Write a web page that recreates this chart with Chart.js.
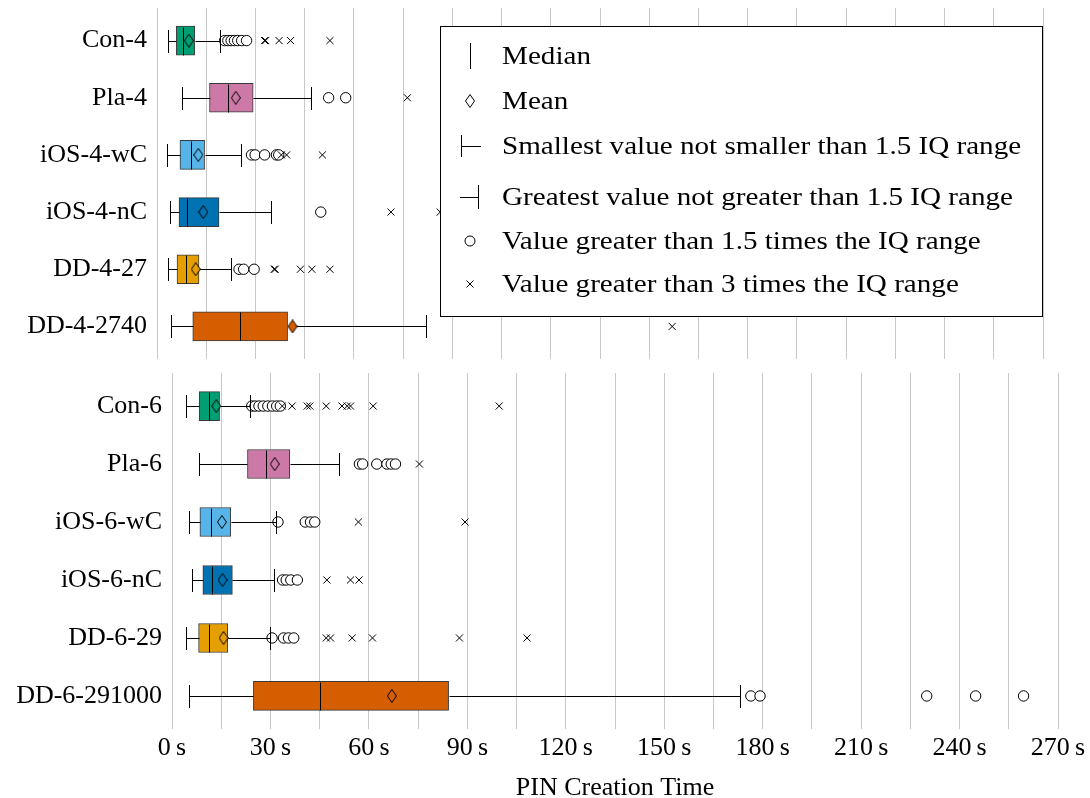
<!DOCTYPE html>
<html>
<head>
<meta charset="utf-8">
<script src="https://cdn.jsdelivr.net/npm/chart.js@4.4.1/dist/chart.umd.min.js"></script>
<style>
  html, body { margin: 0; padding: 0; background: #fff; overflow: hidden; }
  #wrap { position: relative; width: 1090px; height: 798px; }
  canvas { position: absolute; left: 0; }
  #top { top: 0; }
  #bottom { top: 365px; }
</style>
</head>
<body>
<div id="wrap">
  <canvas id="top" width="1090" height="366"></canvas>
  <canvas id="bottom" width="1090" height="440"></canvas>
</div>
<script>
// 4-digit PINs (top panel), seconds
var fourLabels = ['Con-4', 'Pla-4', 'iOS-4-wC', 'iOS-4-nC', 'DD-4-27', 'DD-4-2740'];
var fourLow = [3.4, 7.6, 3.0, 3.9, 3.4, 4.4];
var fourQ1 = [5.9, 16.0, 7.0, 6.7, 6.1, 10.9];
var fourMedian = [8.0, 21.6, 10.3, 9.1, 8.7, 25.3];
var fourMean = [9.7, 24.0, 12.6, 14.1, 11.8, 41.3];
var fourQ3 = [11.5, 29.3, 14.5, 18.9, 12.8, 39.8];
var fourHigh = [19.1, 46.9, 25.7, 34.8, 22.5, 81.9];
var fourOutliers = [
    [20.6, 21.6, 22.6, 23.6, 24.6, 25.8, 27.3],
    [52.3, 57.5],
    [28.8, 29.9, 32.8, 36.4, 37.1],
    [49.9],
    [25.0, 26.4, 29.6],
    []
];
var fourExtremes = [
    [32.8, 33.1, 37.2, 40.7, 52.7],
    [76.3],
    [37.9, 39.5, 50.4],
    [71.3, 86.3],
    [35.7, 36.0, 43.7, 47.2, 52.7],
    [157.0]
];

// 6-digit PINs (bottom panel), seconds
var sixLabels = ['Con-6', 'Pla-6', 'iOS-6-wC', 'iOS-6-nC', 'DD-6-29', 'DD-6-291000'];
var sixLow = [4.3, 8.1, 5.2, 6.1, 4.4, 5.1];
var sixQ1 = [8.3, 23.0, 8.5, 9.4, 8.1, 24.8];
var sixMedian = [11.2, 28.5, 11.9, 12.2, 11.3, 45.2];
var sixMean = [13.5, 31.3, 15.2, 15.4, 15.7, 67.0];
var sixQ3 = [14.5, 35.9, 17.9, 18.4, 17.0, 84.3];
var sixHigh = [23.7, 51.0, 31.8, 31.1, 30.0, 173.1];
var sixOutliers = [
    [24.3, 25.3, 26.5, 27.8, 29.2, 30.6, 31.9, 33.0],
    [57.1, 58.1, 62.4, 65.5, 66.8, 68.1],
    [32.3, 40.6, 42.2, 43.5],
    [33.7, 34.8, 36.2, 38.2],
    [30.5, 34.0, 35.5, 37.1],
    [176.4, 179.2, 230.0, 244.9, 259.5]
];
var sixExtremes = [
    [33.6, 36.6, 41.2, 42.0, 47.0, 51.8, 53.4, 54.4, 61.3, 99.7],
    [75.4],
    [56.8, 89.3],
    [47.2, 54.4, 57.0],
    [47.0, 48.3, 54.9, 61.1, 87.6, 108.2],
    []
];

var colors = ['#009E73', '#CC79A7', '#56B4E9', '#0072B2', '#E69F00', '#D55E00'];
var axisMax = 270;
var gridStep = 15;
var labelStep = 30;

var legendTexts = [
    'Median',
    'Mean',
    'Smallest value not smaller than 1.5 IQ range',
    'Greatest value not greater than 1.5 IQ range',
    'Value greater than 1.5 times the IQ range',
    'Value greater than 3 times the IQ range'
];

Chart.defaults.font.family = '"Liberation Serif", "Times New Roman", serif';
Chart.defaults.font.size = 26;
Chart.defaults.color = '#000';

// small diamond used as the mean marker
function diamond(color) {
    var c = document.createElement('canvas');
    c.width = 10;
    c.height = 14;
    var g = c.getContext('2d');
    g.beginPath();
    g.moveTo(5, 0.5);
    g.lineTo(9.5, 7);
    g.lineTo(5, 13.5);
    g.lineTo(0.5, 7);
    g.closePath();
    g.fillStyle = color;
    g.fill();
    g.strokeStyle = '#000';
    g.lineWidth = 1;
    g.stroke();
    return c;
}

function spread(lists) {
    var out = [];
    lists.forEach(function (vals, i) {
        vals.forEach(function (v) { out.push({x: v, y: i}); });
    });
    return out;
}

// whiskers, caps and medians, drawn right after the circle outliers
function whiskers(low, q1, median, q3, high) {
    return {
        id: 'whiskers',
        afterDatasetDraw: function (chart, args) {
            if (chart.data.datasets[args.index].id !== 'outliers') return;
            var ctx = chart.ctx, xs = chart.scales.x, ys = chart.scales.y;
            var px = function (v) { return Math.round(xs.getPixelForValue(v)) + 0.5; };
            ctx.save();
            ctx.strokeStyle = '#000';
            ctx.lineWidth = 1;
            low.forEach(function (lo, i) {
                var y = Math.round(ys.getPixelForValue(i)) + 0.5;
                var xl = px(lo), xa = px(q1[i]), xb = px(q3[i]), xh = px(high[i]), xm = px(median[i]);
                ctx.beginPath();
                ctx.moveTo(xl, y); ctx.lineTo(xa, y);
                ctx.moveTo(xb, y); ctx.lineTo(xh, y);
                ctx.moveTo(xl, y - 11.5); ctx.lineTo(xl, y + 11.5);
                ctx.moveTo(xh, y - 11.5); ctx.lineTo(xh, y + 11.5);
                ctx.moveTo(xm, y - 14); ctx.lineTo(xm, y + 14);
                ctx.stroke();
            });
            ctx.restore();
        }
    };
}

var legendPlugin = {
    id: 'boxLegend',
    afterDraw: function (chart) {
        var ctx = chart.ctx;
        var rows = [56, 101, 146, 197, 241, 284];
        ctx.save();
        ctx.fillStyle = '#fff';
        ctx.fillRect(440.5, 26.5, 602, 290);
        ctx.strokeStyle = '#000';
        ctx.lineWidth = 1;
        ctx.strokeRect(440.5, 26.5, 602, 290);

        ctx.beginPath();
        // median
        ctx.moveTo(470.5, rows[0] - 13); ctx.lineTo(470.5, rows[0] + 13);
        // smallest value
        ctx.moveTo(461.5, rows[2] - 11); ctx.lineTo(461.5, rows[2] + 11);
        ctx.moveTo(461.5, rows[2] + 0.5); ctx.lineTo(481, rows[2] + 0.5);
        // greatest value
        ctx.moveTo(478.5, rows[3] - 12); ctx.lineTo(478.5, rows[3] + 12);
        ctx.moveTo(460, rows[3] + 0.5); ctx.lineTo(478.5, rows[3] + 0.5);
        // cross
        ctx.moveTo(466.5, rows[5] - 3.5); ctx.lineTo(473.5, rows[5] + 3.5);
        ctx.moveTo(466.5, rows[5] + 3.5); ctx.lineTo(473.5, rows[5] - 3.5);
        ctx.stroke();

        ctx.beginPath();
        ctx.arc(470, rows[4], 5, 0, Math.PI * 2);
        ctx.stroke();

        ctx.drawImage(diamond('#fff'), 465, rows[1] - 7);

        // the original face is wider than Liberation Serif, stretch a little
        ctx.font = '26px "Liberation Serif", serif';
        ctx.fillStyle = '#000';
        ctx.textBaseline = 'middle';
        legendTexts.forEach(function (t, i) {
            ctx.save();
            ctx.translate(502, rows[i] + 1);
            ctx.scale(1.12, 1);
            ctx.fillText(t, 0, 0);
            ctx.restore();
        });
        ctx.restore();
    }
};

function boxChart(canvasId, labels, low, q1, median, mean, q3, high, outliers, extremes, frame, extra) {
    var boxes = labels.map(function (l, i) { return {x: [q1[i], q3[i]], y: i}; });
    var means = labels.map(function (l, i) { return {x: mean[i], y: i}; });
    return new Chart(document.getElementById(canvasId), {
        type: 'scatter',
        data: {
            datasets: [{
                id: 'boxes',
                type: 'bar',
                indexAxis: 'y',
                data: boxes,
                backgroundColor: colors,
                borderColor: '#3a3a3a',
                borderWidth: 1,
                borderSkipped: false,
                barThickness: 29,
                order: 4
            }, {
                id: 'outliers',
                data: spread(outliers),
                pointStyle: 'circle',
                pointRadius: 5.2,
                backgroundColor: '#fff',
                borderColor: '#000',
                borderWidth: 1,
                order: 3
            }, {
                id: 'extremes',
                data: spread(extremes),
                pointStyle: 'crossRot',
                pointRadius: 5,
                borderColor: '#000',
                borderWidth: 1,
                order: 2
            }, {
                id: 'means',
                data: means,
                pointStyle: colors.map(diamond),
                pointRadius: 6,
                order: 1
            }]
        },
        options: {
            responsive: false,
            animation: false,
            events: [],
            layout: {padding: {top: 8, right: frame.right, left: 0, bottom: 0}},
            plugins: {legend: {display: false}, tooltip: {enabled: false}},
            scales: {
                x: {
                    type: 'linear',
                    min: 0,
                    max: axisMax,
                    offset: false,
                    border: {display: false},
                    grid: {color: '#c8c8c8', lineWidth: 1, drawTicks: false, offset: false},
                    ticks: {
                        display: frame.ticks,
                        stepSize: gridStep,
                        autoSkip: false,
                        maxRotation: 0,
                        padding: 4,
                        callback: function (v) { return v % labelStep === 0 ? v + '\u2009s' : ''; }
                    },
                    title: {display: frame.ticks, text: 'PIN Creation Time', padding: {top: 0, bottom: 1}},
                    afterFit: function (s) { s.height = frame.axisHeight; }
                },
                y: {
                    type: 'linear',
                    reverse: true,
                    min: -0.57,
                    max: labels.length - 0.43,
                    offset: false,
                    border: {display: false},
                    grid: {display: false, drawTicks: false},
                    ticks: {padding: 10, callback: function (v) { return labels[v]; }},
                    afterBuildTicks: function (s) {
                        s.ticks = labels.map(function (l, i) { return {value: i}; });
                    },
                    afterFit: function (s) {
                        s.width = frame.left;
                        s.paddingTop = 0;
                        s.paddingBottom = 0;
                    }
                }
            }
        },
        plugins: [whiskers(low, q1, median, q3, high)].concat(extra)
    });
}

boxChart('top', fourLabels, fourLow, fourQ1, fourMedian, fourMean, fourQ3, fourHigh,
    fourOutliers, fourExtremes, {left: 157, right: 47, axisHeight: 3, ticks: false}, [legendPlugin]);

boxChart('bottom', sixLabels, sixLow, sixQ1, sixMedian, sixMean, sixQ3, sixHigh,
    sixOutliers, sixExtremes, {left: 172, right: 32, axisHeight: 76, ticks: true}, []);
</script>
</body>
</html>
